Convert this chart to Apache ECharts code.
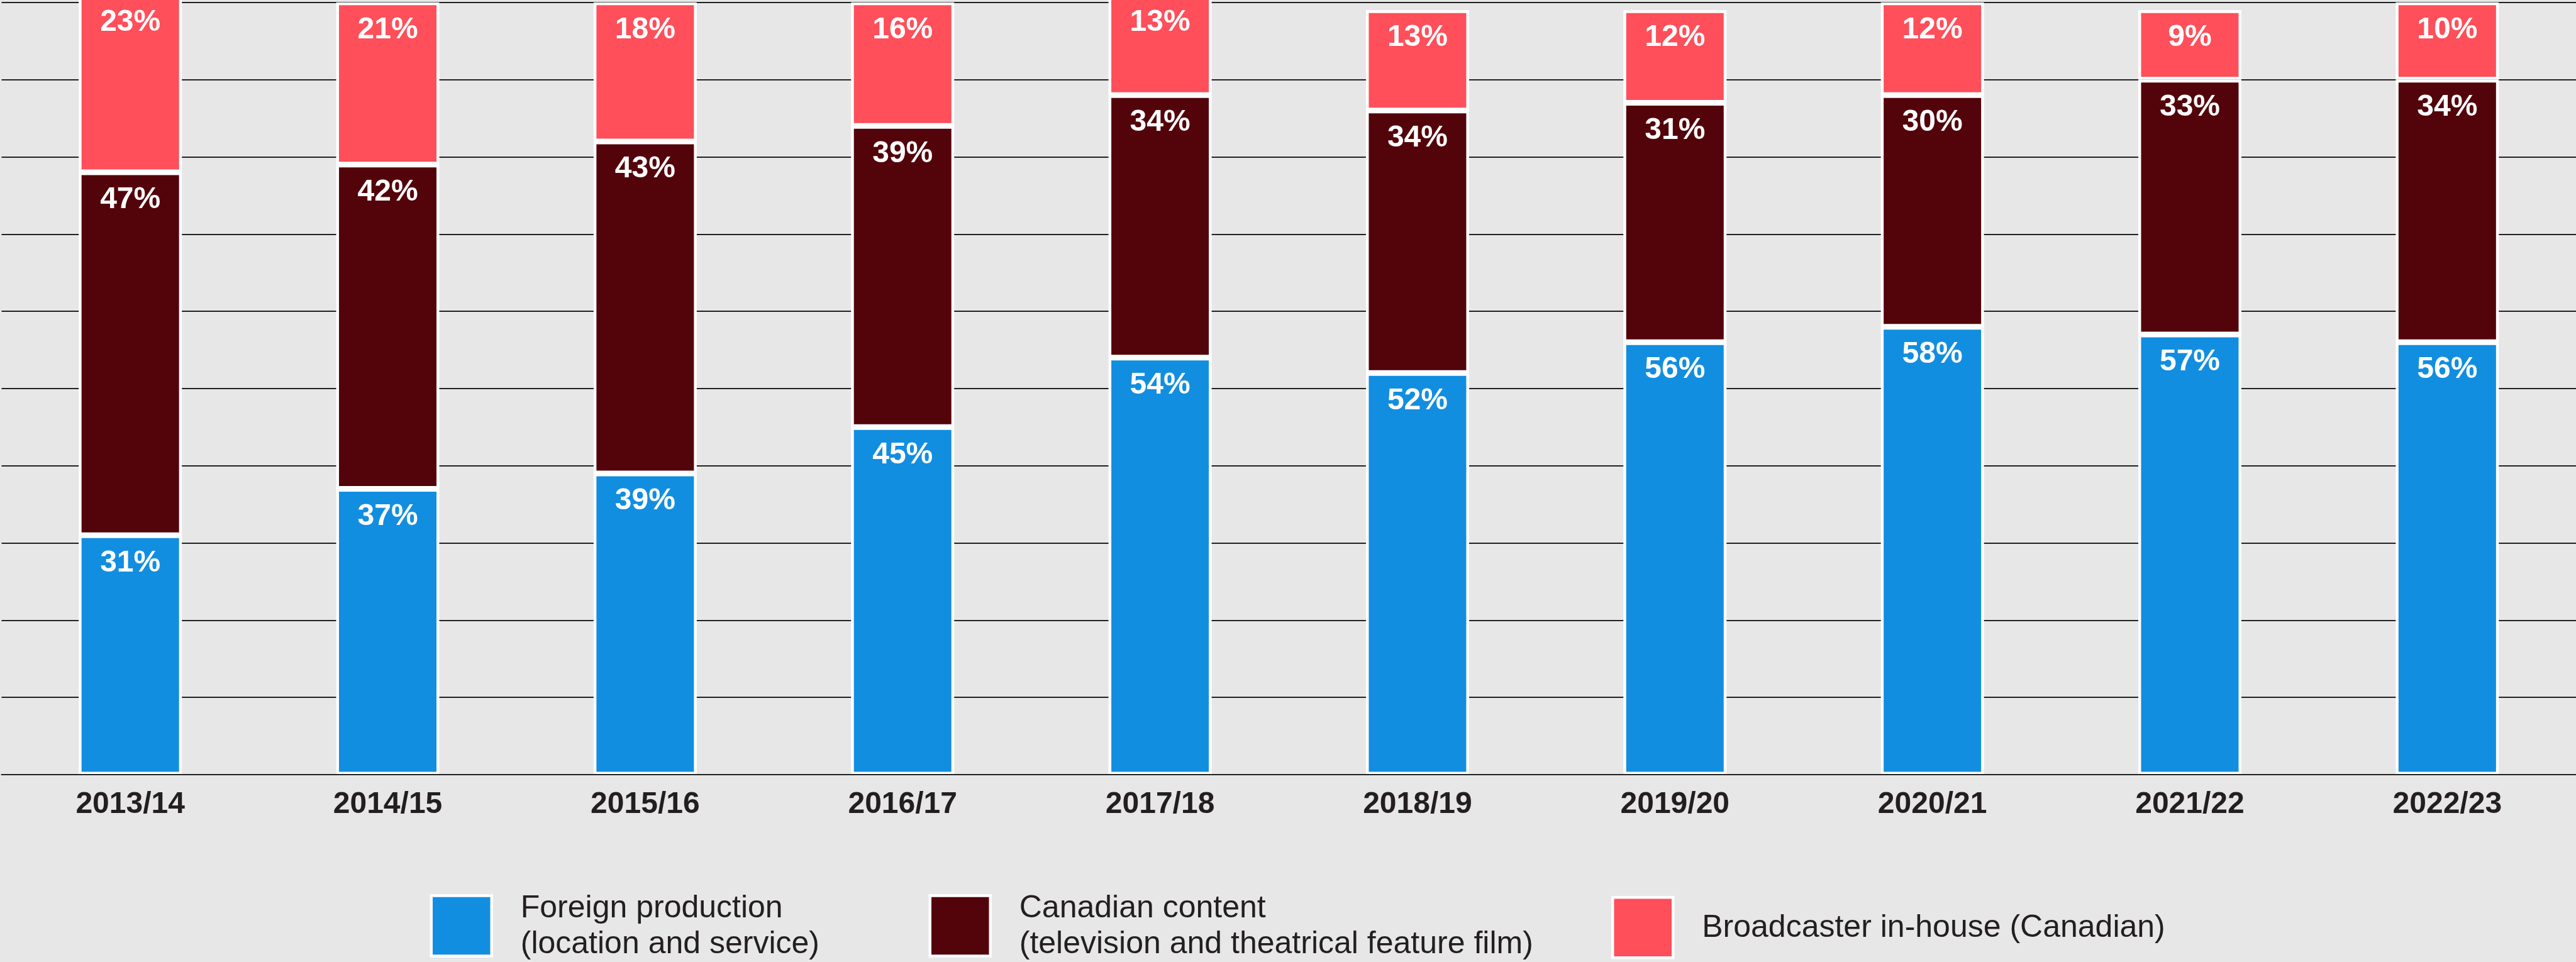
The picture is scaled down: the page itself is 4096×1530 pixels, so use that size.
<!DOCTYPE html>
<html>
<head>
<meta charset="utf-8">
<title>Canadian production volume by segment</title>
<script src="https://cdn.jsdelivr.net/npm/echarts@6/dist/echarts.min.js"></script>
<style>
  html, body { margin: 0; padding: 0; background: #e7e7e7; }
  #chart { width: 4096px; height: 1530px; }
</style>
</head>
<body>
<div id="chart"></div>
<script>
// Fiscal years on the category axis
const years = ['2013/14', '2014/15', '2015/16', '2016/17', '2017/18',
               '2018/19', '2019/20', '2020/21', '2021/22', '2022/23'];

// Share of total volume (%) for each segment
const foreignProduction = [31, 37, 39, 45, 54, 52, 56, 58, 57, 56];
const canadianContent   = [47, 42, 43, 39, 34, 34, 31, 30, 33, 34];
const broadcasterInHouse = [23, 21, 18, 16, 13, 13, 12, 12, 9, 10];

// Segment names as shown in the legend
const seriesNames = [
  'Foreign production\n(location and service)',
  'Canadian content\n(television and theatrical feature film)',
  'Broadcaster in-house (Canadian)'
];

const colors = ['#128ee0', '#53040a', '#fe4f5a'];
const FONT = '"Liberation Sans", Arial, Helvetica, sans-serif';
const INK = '#231f20';

const chart = echarts.init(document.getElementById('chart'), null, { renderer: 'canvas' });

function barSeries(name, data, color) {
  return {
    name: name,
    type: 'bar',
    stack: 'share',
    data: data,
    barWidth: 164,
    clip: false,
    itemStyle: { color: color, borderColor: '#ffffff', borderWidth: 4.5 },
    label: {
      show: true,
      position: 'insideTop',
      distance: 20,
      formatter: '{c}%',
      color: '#ffffff',
      fontFamily: FONT,
      fontWeight: 'bold',
      fontSize: 48
    },
    emphasis: { disabled: true }
  };
}

function legendFor(name, left) {
  return {
    data: [name],
    left: left,
    top: name.indexOf('\n') >= 0 ? 1418 : 1425,
    orient: 'horizontal',
    padding: 0,
    icon: 'rect',
    itemWidth: 96,
    itemHeight: 96,
    selectedMode: false,
    itemStyle: { borderColor: '#ffffff', borderWidth: 4.5 },
    formatter: function (n) {
      return n.split('\n').map(function (s) { return '{t|' + s + '}'; }).join('\n');
    },
    textStyle: {
      color: INK,
      fontFamily: FONT,
      rich: {
        t: { fontSize: 50, lineHeight: 57, color: INK, fontFamily: FONT, padding: [2, 0, 0, 41] }
      }
    }
  };
}

chart.setOption({
  backgroundColor: '#e7e7e7',
  animation: false,
  grid: { left: 2.5, right: -3.5, top: 3.85, bottom: 298, containLabel: false },
  legend: [
    legendFor(seriesNames[0], 683.5),
    legendFor(seriesNames[1], 1476.5),
    legendFor(seriesNames[2], 2562)
  ],
  xAxis: {
    type: 'category',
    data: years,
    z: 5,
    axisLine: { show: true, lineStyle: { color: '#222222', width: 2 } },
    axisTick: { show: false },
    axisLabel: {
      margin: 24,
      color: INK,
      fontFamily: FONT,
      fontWeight: 'bold',
      fontSize: 48
    }
  },
  yAxis: {
    type: 'value',
    min: 0,
    max: 100,
    interval: 10,
    axisLine: { show: false },
    axisTick: { show: false },
    axisLabel: { show: false },
    splitLine: { show: true, lineStyle: { color: '#222222', width: 1.8 } }
  },
  series: [
    barSeries(seriesNames[0], foreignProduction, colors[0]),
    barSeries(seriesNames[1], canadianContent, colors[1]),
    barSeries(seriesNames[2], broadcasterInHouse, colors[2])
  ]
});
</script>
</body>
</html>
